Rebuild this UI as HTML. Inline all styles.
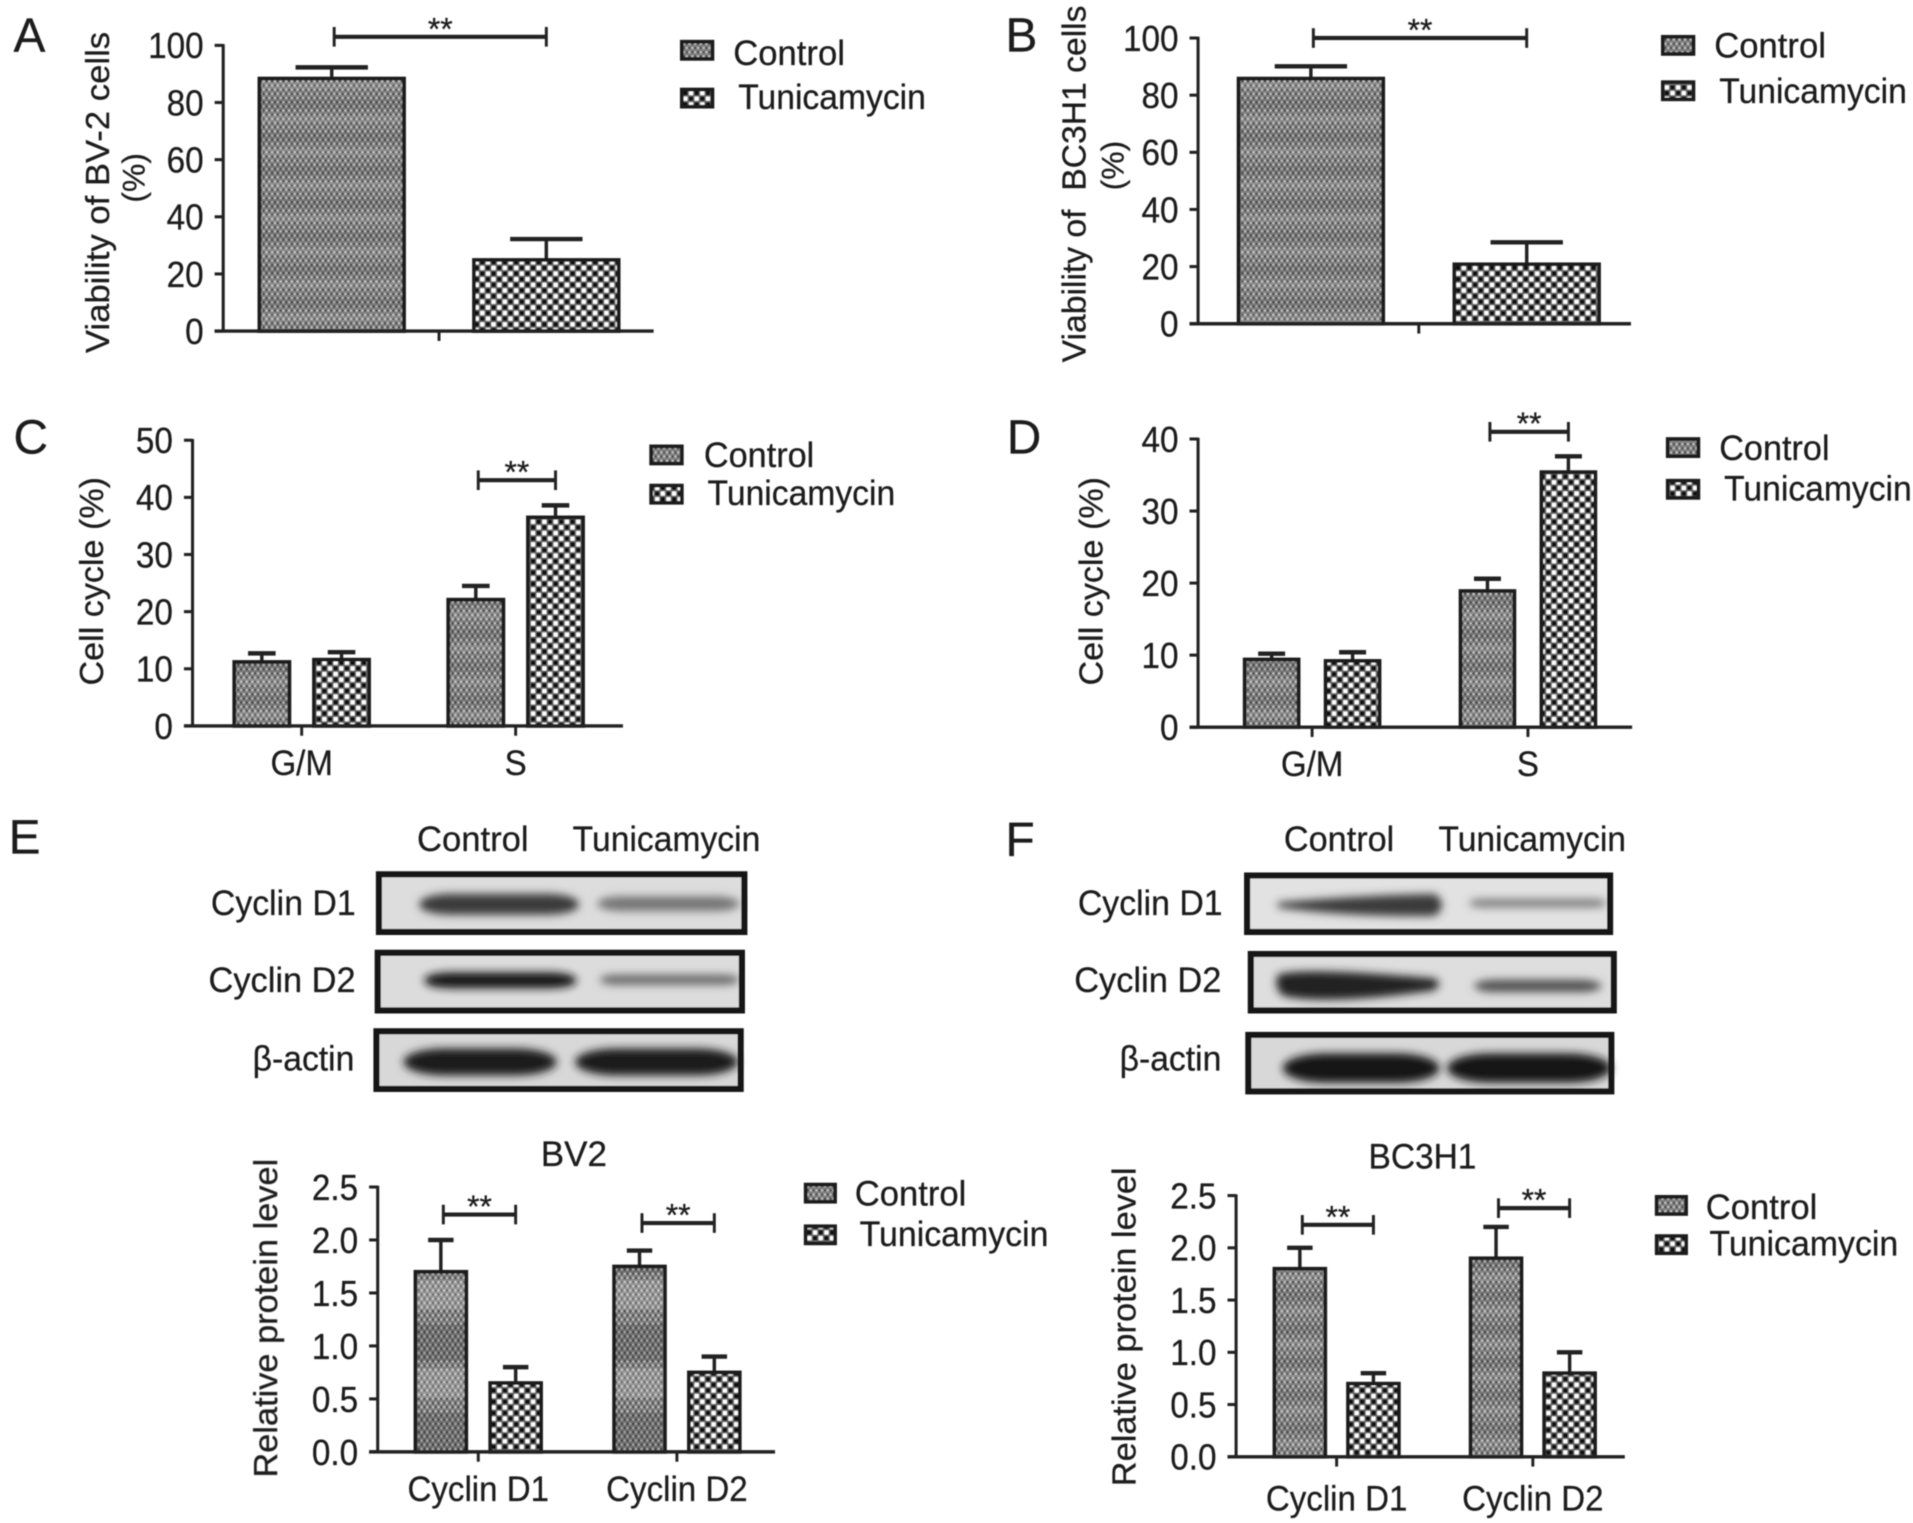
<!DOCTYPE html>
<html lang="en">
<head>
<meta charset="utf-8">
<title>Tunicamycin viability, cell cycle and cyclin figure</title>
<style>
html,body{margin:0;padding:0;background:#fff}
svg{display:block}
text{font-family:"Liberation Sans",Arial,sans-serif;fill:#1c1c1c;stroke:#1c1c1c;stroke-width:0.22}
</style>
</head>
<body>
<svg id="fig" xmlns="http://www.w3.org/2000/svg" width="1913" height="1523" viewBox="0 0 1560 1242">
<defs>
<pattern id="pat-control" patternUnits="userSpaceOnUse" width="4.6" height="6.8">
<rect width="4.6" height="6.8" fill="#808080"/>
<circle cx="1.1" cy="1.7" r="0.95" fill="#c4c4c4"/><circle cx="3.4" cy="1.7" r="0.95" fill="#454545"/>
<circle cx="3.4" cy="5.1" r="0.95" fill="#c4c4c4"/><circle cx="1.1" cy="5.1" r="0.95" fill="#454545"/>
</pattern>
<pattern id="pat-tunica" patternUnits="userSpaceOnUse" width="9.2" height="9.2">
<rect width="9.2" height="9.2" fill="#6a6a6a"/>
<rect x="0.6" y="0.6" width="3.4" height="3.4" fill="#fff"/><rect x="5.2" y="5.2" width="3.4" height="3.4" fill="#fff"/>
<rect x="5.2" y="0.6" width="3.4" height="3.4" fill="#0c0c0c"/><rect x="0.6" y="5.2" width="3.4" height="3.4" fill="#0c0c0c"/>
</pattern>
<pattern id="pat-bands" patternUnits="userSpaceOnUse" width="10" height="27">
<rect y="0" width="10" height="8" fill="#000" fill-opacity="0.08"/>
<rect y="13" width="10" height="6" fill="#fff" fill-opacity="0.1"/>
</pattern>
<pattern id="pat-bands-wide" patternUnits="userSpaceOnUse" width="10" height="72">
<rect y="0" width="10" height="30" fill="#000" fill-opacity="0.14"/>
<rect y="36" width="10" height="24" fill="#fff" fill-opacity="0.18"/>
</pattern>
<filter id="soft" x="-2%" y="-2%" width="104%" height="104%"><feGaussianBlur stdDeviation="0.5"/></filter>
<filter id="blot" x="-20%" y="-100%" width="140%" height="300%"><feGaussianBlur stdDeviation="3.4"/></filter>
</defs>

<g id="root" filter="url(#soft)">

<!-- panel letters -->
<text x="11" y="42" font-size="39">A</text>
<text x="820" y="42" font-size="39">B</text>
<text x="11" y="370" font-size="39">C</text>
<text x="821" y="370" font-size="39">D</text>
<text x="7" y="696" font-size="39">E</text>
<text x="820" y="698" font-size="39">F</text>

<!-- axis titles -->
<text font-size="27" text-anchor="middle" textLength="262" lengthAdjust="spacingAndGlyphs" transform="translate(89 157) rotate(-90)">Viability of BV-2 cells</text>
<text font-size="26" text-anchor="middle" transform="translate(118 145) rotate(-90)">(%)</text>
<text font-size="27" text-anchor="middle" textLength="291" lengthAdjust="spacingAndGlyphs" xml:space="preserve" transform="translate(885 150) rotate(-90)">Viability of  BC3H1 cells</text>
<text font-size="26" text-anchor="middle" transform="translate(916 135) rotate(-90)">(%)</text>
<text font-size="27" text-anchor="middle" textLength="170" lengthAdjust="spacingAndGlyphs" transform="translate(84 474) rotate(-90)">Cell cycle (%)</text>
<text font-size="27" text-anchor="middle" textLength="170" lengthAdjust="spacingAndGlyphs" transform="translate(899 474) rotate(-90)">Cell cycle (%)</text>
<text font-size="27" text-anchor="middle" textLength="260" lengthAdjust="spacingAndGlyphs" transform="translate(226 1075) rotate(-90)">Relative protein level</text>
<text font-size="27" text-anchor="middle" textLength="260" lengthAdjust="spacingAndGlyphs" transform="translate(926 1082) rotate(-90)">Relative protein level</text>

<!-- chart titles -->
<text x="468" y="951" font-size="29" text-anchor="middle" textLength="54" lengthAdjust="spacingAndGlyphs">BV2</text>
<text x="1160" y="953" font-size="29" text-anchor="middle" textLength="88" lengthAdjust="spacingAndGlyphs">BC3H1</text>

<!-- legends -->
<g>
<rect x="556" y="34" width="25" height="14" fill="url(#pat-control)" stroke="#1e1e1e" stroke-width="3"/>
<text x="598" y="53" font-size="29" textLength="91" lengthAdjust="spacingAndGlyphs">Control</text>
<rect x="556" y="73" width="25" height="14" fill="url(#pat-tunica)" stroke="#1e1e1e" stroke-width="3"/>
<text x="602" y="89" font-size="29" textLength="153" lengthAdjust="spacingAndGlyphs">Tunicamycin</text>
</g>
<g>
<rect x="1356" y="30" width="25" height="14" fill="url(#pat-control)" stroke="#1e1e1e" stroke-width="3"/>
<text x="1398" y="47" font-size="29" textLength="91" lengthAdjust="spacingAndGlyphs">Control</text>
<rect x="1356" y="67" width="25" height="14" fill="url(#pat-tunica)" stroke="#1e1e1e" stroke-width="3"/>
<text x="1402" y="84" font-size="29" textLength="153" lengthAdjust="spacingAndGlyphs">Tunicamycin</text>
</g>
<g>
<rect x="531" y="364" width="25" height="14" fill="url(#pat-control)" stroke="#1e1e1e" stroke-width="3"/>
<text x="574" y="381" font-size="29" textLength="90" lengthAdjust="spacingAndGlyphs">Control</text>
<rect x="531" y="396" width="25" height="14" fill="url(#pat-tunica)" stroke="#1e1e1e" stroke-width="3"/>
<text x="577" y="412" font-size="29" textLength="153" lengthAdjust="spacingAndGlyphs">Tunicamycin</text>
</g>
<g>
<rect x="1360" y="358" width="25" height="14" fill="url(#pat-control)" stroke="#1e1e1e" stroke-width="3"/>
<text x="1402" y="375" font-size="29" textLength="90" lengthAdjust="spacingAndGlyphs">Control</text>
<rect x="1360" y="392" width="25" height="14" fill="url(#pat-tunica)" stroke="#1e1e1e" stroke-width="3"/>
<text x="1406" y="408" font-size="29" textLength="153" lengthAdjust="spacingAndGlyphs">Tunicamycin</text>
</g>
<g>
<rect x="657" y="966" width="24" height="14" fill="url(#pat-control)" stroke="#1e1e1e" stroke-width="3"/>
<text x="697" y="983" font-size="29" textLength="91" lengthAdjust="spacingAndGlyphs">Control</text>
<rect x="657" y="1000" width="24" height="14" fill="url(#pat-tunica)" stroke="#1e1e1e" stroke-width="3"/>
<text x="701" y="1016" font-size="29" textLength="154" lengthAdjust="spacingAndGlyphs">Tunicamycin</text>
</g>
<g>
<rect x="1351" y="976" width="24" height="14" fill="url(#pat-control)" stroke="#1e1e1e" stroke-width="3"/>
<text x="1391" y="994" font-size="29" textLength="91" lengthAdjust="spacingAndGlyphs">Control</text>
<rect x="1351" y="1008" width="24" height="14" fill="url(#pat-tunica)" stroke="#1e1e1e" stroke-width="3"/>
<text x="1394" y="1024" font-size="29" textLength="154" lengthAdjust="spacingAndGlyphs">Tunicamycin</text>
</g>

<!-- western blots, panel E -->
<g>
<text x="340" y="694" font-size="29" textLength="91" lengthAdjust="spacingAndGlyphs">Control</text>
<text x="467" y="694" font-size="29" textLength="153" lengthAdjust="spacingAndGlyphs">Tunicamycin</text>
<text x="290" y="746" font-size="29" text-anchor="end" textLength="118" lengthAdjust="spacingAndGlyphs">Cyclin D1</text>
<text x="290" y="809" font-size="29" text-anchor="end" textLength="120" lengthAdjust="spacingAndGlyphs">Cyclin D2</text>
<text x="289" y="873" font-size="29" text-anchor="end" textLength="83" lengthAdjust="spacingAndGlyphs">β-actin</text>
<rect x="309" y="713" width="298" height="47" fill="#dddddd"/>
<rect x="308" y="777" width="297" height="47" fill="#dcdcdc"/>
<rect x="307" y="841" width="297" height="47" fill="#d8d8d8"/>
<rect x="342" y="729" width="130" height="17" rx="26" ry="8" fill="#3a3a3a" filter="url(#blot)"/>
<rect x="487" y="731" width="116" height="12" rx="20" ry="6" fill="#757575" filter="url(#blot)"/>
<rect x="346" y="793" width="124" height="13" rx="22" ry="6" fill="#141414" filter="url(#blot)"/>
<rect x="489" y="795" width="114" height="8" rx="14" ry="4" fill="#666" filter="url(#blot)"/>
<rect x="329" y="855" width="125" height="22" rx="34" ry="11" fill="#1a1a1a" filter="url(#blot)"/>
<rect x="469" y="855" width="133" height="22" rx="34" ry="11" fill="#1a1a1a" filter="url(#blot)"/>
<rect x="309" y="713" width="298" height="47" fill="none" stroke="#181818" stroke-width="5"/>
<rect x="308" y="777" width="297" height="47" fill="none" stroke="#181818" stroke-width="5"/>
<rect x="307" y="841" width="297" height="47" fill="none" stroke="#181818" stroke-width="5"/>
</g>

<!-- western blots, panel F -->
<g>
<text x="1047" y="694" font-size="29" textLength="90" lengthAdjust="spacingAndGlyphs">Control</text>
<text x="1173" y="694" font-size="29" textLength="153" lengthAdjust="spacingAndGlyphs">Tunicamycin</text>
<text x="997" y="746" font-size="29" text-anchor="end" textLength="118" lengthAdjust="spacingAndGlyphs">Cyclin D1</text>
<text x="996" y="809" font-size="29" text-anchor="end" textLength="120" lengthAdjust="spacingAndGlyphs">Cyclin D2</text>
<text x="996" y="873" font-size="29" text-anchor="end" textLength="83" lengthAdjust="spacingAndGlyphs">β-actin</text>
<rect x="1017" y="714" width="296" height="46" fill="#e2e2e2"/>
<rect x="1020" y="778" width="296" height="46" fill="#dedede"/>
<rect x="1018" y="844" width="296" height="46" fill="#d8d8d8"/>
<path d="M1042 736 Q1110 730 1170 729 Q1182 738 1170 747 Q1100 748 1042 740 Z" fill="#3a3a3a" filter="url(#blot)"/>
<rect x="1198" y="733" width="112" height="7" rx="14" ry="3" fill="#7c7c7c" filter="url(#blot)"/>
<path d="M1042 795 Q1060 788 1170 798 Q1178 803 1168 808 Q1080 820 1046 812 Q1038 804 1042 795 Z" fill="#222" filter="url(#blot)"/>
<rect x="1202" y="799" width="104" height="10" rx="18" ry="5" fill="#505050" filter="url(#blot)"/>
<rect x="1046" y="859" width="128" height="24" rx="36" ry="12" fill="#161616" filter="url(#blot)"/>
<rect x="1180" y="859" width="134" height="24" rx="36" ry="12" fill="#161616" filter="url(#blot)"/>
<rect x="1017" y="714" width="296" height="46" fill="none" stroke="#181818" stroke-width="5"/>
<rect x="1020" y="778" width="296" height="46" fill="none" stroke="#181818" stroke-width="5"/>
<rect x="1018" y="844" width="296" height="46" fill="none" stroke="#181818" stroke-width="5"/>
</g>

<g id="charts"></g>
</g>
</svg>

<script>
// Panel A: BV-2 viability
const aCategories = [''];
const aControl = [88.4];
const aControlErr = [3.9];
const aTunicamycin = [24.9];
const aTunicamycinErr = [7.3];
const aTicks = [0, 20, 40, 60, 80, 100];
const aTickLabels = ['0', '20', '40', '60', '80', '100'];
const aBracketLevels = [103];

// Panel B: BC3H1 viability
const bCategories = [''];
const bControl = [85.8];
const bControlErr = [4.3];
const bTunicamycin = [20.8];
const bTunicamycinErr = [7.7];
const bTicks = [0, 20, 40, 60, 80, 100];
const bTickLabels = ['0', '20', '40', '60', '80', '100'];
const bBracketLevels = [100];

// Panel C: BV-2 cell cycle
const cCategories = ['G/M', 'S'];
const cControl = [11.2, 22.1];
const cControlErr = [1.5, 2.4];
const cTunicamycin = [11.6, 36.5];
const cTunicamycinErr = [1.3, 2.1];
const cTicks = [0, 10, 20, 30, 40, 50];
const cTickLabels = ['0', '10', '20', '30', '40', '50'];
const cBracketLevels = [null, 43];

// Panel D: BC3H1 cell cycle
const dCategories = ['G/M', 'S'];
const dControl = [9.4, 18.9];
const dControlErr = [0.8, 1.7];
const dTunicamycin = [9.2, 35.4];
const dTunicamycinErr = [1.2, 2.2];
const dTicks = [0, 10, 20, 30, 40];
const dTickLabels = ['0', '10', '20', '30', '40'];
const dBracketLevels = [null, 41];

// Panel E: BV2 protein level
const eCategories = ['Cyclin D1', 'Cyclin D2'];
const eControl = [1.7, 1.75];
const eControlErr = [0.3, 0.15];
const eTunicamycin = [0.65, 0.75];
const eTunicamycinErr = [0.15, 0.15];
const eTicks = [0, 0.5, 1, 1.5, 2, 2.5];
const eTickLabels = ['0.0', '0.5', '1.0', '1.5', '2.0', '2.5'];
const eBracketLevels = [2.24, 2.16];

// Panel F: BC3H1 protein level
const fCategories = ['Cyclin D1', 'Cyclin D2'];
const fControl = [1.8, 1.9];
const fControlErr = [0.2, 0.3];
const fTunicamycin = [0.7, 0.8];
const fTunicamycinErr = [0.1, 0.2];
const fTicks = [0, 0.5, 1, 1.5, 2, 2.5];
const fTickLabels = ['0.0', '0.5', '1.0', '1.5', '2.0', '2.5'];
const fBracketLevels = [2.22, 2.38];

const SVG_NS = 'http://www.w3.org/2000/svg';
const chartsLayer = document.getElementById('charts');

function mk(parent, tag, attrs, name, label) {
  const el = document.createElementNS(SVG_NS, tag);
  for (const k in attrs) el.setAttribute(k, attrs[k]);
  
  
  if (label !== undefined) el.textContent = label;
  parent.appendChild(el);
  return el;
}

function condense(el, factor) {
  const w = el.getComputedTextLength();
  el.setAttribute('textLength', w * factor);
  el.setAttribute('lengthAdjust', 'spacingAndGlyphs');
}

function drawChart(id, d, g) {
  const root = mk(chartsLayer, 'g', {}, 'panel-' + id + '-chart');
  const yScale = v => g.y0 - (v / g.yMax) * (g.y0 - g.yTop);
  const xGroup = i => g.firstGroup + i * g.groupStep;
  const xBar = (i, s) => xGroup(i) + (s === 0 ? -g.offset : g.offset);
  const ink = '#222222';

  // bars and error bars
  d.categories.forEach((cat, i) => {
    [[d.control, d.controlErr, 'control'], [d.tunicamycin, d.tunicamycinErr, 'tunicamycin']].forEach((series, s) => {
      const v = series[0][i], e = series[1][i], label = series[2];
      const cx = xBar(i, s), top = yScale(v), errTop = yScale(v + e);
      const left = cx - g.barWidth / 2;
      mk(root, 'line', {x1: cx, x2: cx, y1: top, y2: errTop, stroke: ink, 'stroke-width': 2.8}, 'error-stem-' + label);
      mk(root, 'line', {x1: cx - g.barWidth / 4, x2: cx + g.barWidth / 4, y1: errTop, y2: errTop, stroke: ink, 'stroke-width': 3.6}, 'error-cap-' + label);
      mk(root, 'rect', {x: left, y: top, width: g.barWidth, height: g.y0 - top, fill: s === 0 ? 'url(#pat-control)' : 'url(#pat-tunica)'}, 'bar-' + label);
      if (s === 0) {
        mk(root, 'rect', {x: left, y: top, width: g.barWidth, height: g.y0 - top, fill: g.bands}, 'bar-shading');
      }
      mk(root, 'rect', {x: left, y: top, width: g.barWidth, height: g.y0 - top, fill: 'none', stroke: '#1c1c1c', 'stroke-width': 3}, 'bar-outline-' + label);
    });
  });

  // axes
  mk(root, 'line', {x1: g.axisX, x2: g.axisX, y1: yScale(d.ticks[d.ticks.length - 1]) - 1, y2: g.y0, stroke: ink, 'stroke-width': 2.5}, 'y-axis');
  mk(root, 'line', {x1: g.axisX - 7, x2: g.axisEnd, y1: g.y0, y2: g.y0, stroke: ink, 'stroke-width': 2.8}, 'x-axis');

  d.ticks.forEach((t, i) => {
    const y = yScale(t);
    mk(root, 'line', {x1: g.axisX - 7, x2: g.axisX, y1: y, y2: y, stroke: ink, 'stroke-width': 2.5}, 'y-tick');
    const tickText = mk(root, 'text', {x: g.axisX - 16, y: y + 10.5, 'font-size': 29.5, 'text-anchor': 'end'}, 'y-tick-label', d.tickLabels[i]);
    condense(tickText, 0.92);
  });

  d.categories.forEach((cat, i) => {
    const x = xGroup(i);
    mk(root, 'line', {x1: x, x2: x, y1: g.y0, y2: g.y0 + 8, stroke: ink, 'stroke-width': 2.4}, 'x-tick');
    if (cat) {
      const catText = mk(root, 'text', {x: x, y: g.y0 + g.labelGap, 'font-size': 29, 'text-anchor': 'middle'}, 'x-tick-label', cat);
      condense(catText, 0.93);
    }
  });

  // significance brackets
  d.brackets.forEach((level, i) => {
    if (level === null) return;
    const x1 = xBar(i, 0) + 2, x2 = xBar(i, 1), y = yScale(level);
    mk(root, 'line', {x1: x1, x2: x2, y1: y, y2: y, stroke: ink, 'stroke-width': 3.4}, 'significance-bracket');
    mk(root, 'line', {x1: x1, x2: x1, y1: y - 8, y2: y + 8, stroke: ink, 'stroke-width': 2.4}, 'significance-bracket-left-cap');
    mk(root, 'line', {x1: x2, x2: x2, y1: y - 8, y2: y + 8, stroke: ink, 'stroke-width': 2.4}, 'significance-bracket-right-cap');
    mk(root, 'text', {x: (x1 + x2) / 2, y: y + 2, 'font-size': 26, 'text-anchor': 'middle'}, 'significance-stars', '**');
  });
}

drawChart('a',
  {categories: aCategories, control: aControl, controlErr: aControlErr, tunicamycin: aTunicamycin, tunicamycinErr: aTunicamycinErr, ticks: aTicks, tickLabels: aTickLabels, brackets: aBracketLevels},
  {axisX: 182, axisEnd: 533, y0: 270, yTop: 37, yMax: 100, firstGroup: 358, groupStep: 0, offset: 87.5, barWidth: 118, labelGap: 40, bands: 'url(#pat-bands)'});
drawChart('b',
  {categories: bCategories, control: bControl, controlErr: bControlErr, tunicamycin: bTunicamycin, tunicamycinErr: bTunicamycinErr, ticks: bTicks, tickLabels: bTickLabels, brackets: bBracketLevels},
  {axisX: 977, axisEnd: 1330, y0: 264, yTop: 31, yMax: 100, firstGroup: 1157, groupStep: 0, offset: 88, barWidth: 118, labelGap: 40, bands: 'url(#pat-bands)'});
drawChart('c',
  {categories: cCategories, control: cControl, controlErr: cControlErr, tunicamycin: cTunicamycin, tunicamycinErr: cTunicamycinErr, ticks: cTicks, tickLabels: cTickLabels, brackets: cBracketLevels},
  {axisX: 157, axisEnd: 508, y0: 592, yTop: 359, yMax: 50, firstGroup: 246, groupStep: 174.5, offset: 32.5, barWidth: 45, labelGap: 40, bands: 'url(#pat-bands)'});
drawChart('d',
  {categories: dCategories, control: dControl, controlErr: dControlErr, tunicamycin: dTunicamycin, tunicamycinErr: dTunicamycinErr, ticks: dTicks, tickLabels: dTickLabels, brackets: dBracketLevels},
  {axisX: 977, axisEnd: 1331, y0: 593, yTop: 358, yMax: 40, firstGroup: 1070, groupStep: 176, offset: 33, barWidth: 44, labelGap: 40, bands: 'url(#pat-bands)'});
drawChart('e',
  {categories: eCategories, control: eControl, controlErr: eControlErr, tunicamycin: eTunicamycin, tunicamycinErr: eTunicamycinErr, ticks: eTicks, tickLabels: eTickLabels, brackets: eBracketLevels},
  {axisX: 308, axisEnd: 632, y0: 1184, yTop: 968, yMax: 2.5, firstGroup: 390, groupStep: 162, offset: 30.5, barWidth: 41.5, labelGap: 40, bands: 'url(#pat-bands-wide)'});
drawChart('f',
  {categories: fCategories, control: fControl, controlErr: fControlErr, tunicamycin: fTunicamycin, tunicamycinErr: fTunicamycinErr, ticks: fTicks, tickLabels: fTickLabels, brackets: fBracketLevels},
  {axisX: 1008, axisEnd: 1325, y0: 1188, yTop: 975, yMax: 2.5, firstGroup: 1090, groupStep: 160, offset: 30, barWidth: 41.5, labelGap: 44, bands: 'url(#pat-bands)'});
</script>
</body>
</html>
